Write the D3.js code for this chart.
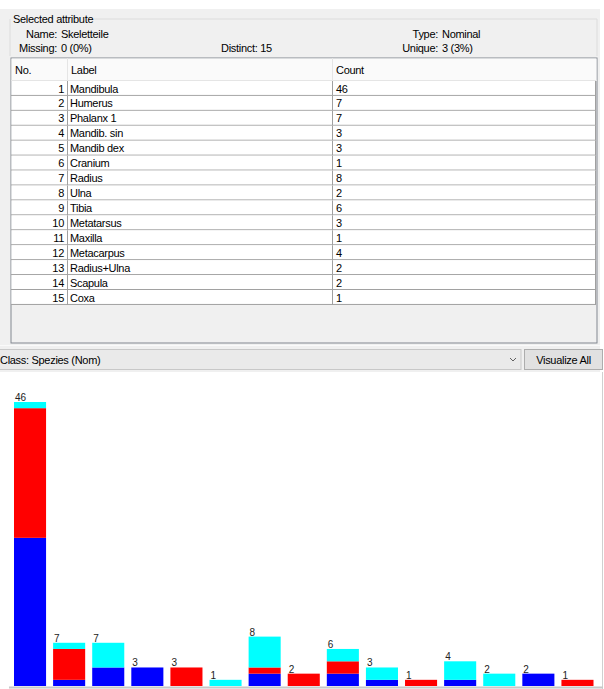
<!DOCTYPE html>
<html>
<head>
<meta charset="utf-8">
<script src="https://cdn.jsdelivr.net/npm/d3@7"></script>
<style>
  body { margin: 0; background: #fff; }
  svg { display: block; font-family: "Liberation Sans", Arial, sans-serif; }
  .ui { letter-spacing: -0.3px; }
</style>
</head>
<body>
<div id="chart"></div>
<script>
const WIDTH = 604;
const HEIGHT = 689;

// attribute summary
const attrName = "Skeletteile";
const attrType = "Nominal";
const missing = "0 (0%)";
const distinct = "15";
const unique = "3 (3%)";
const className = "Class: Spezies (Nom)";

// labels and counts of the nominal attribute
const labels = ["Mandibula", "Humerus", "Phalanx 1", "Mandib. sin", "Mandib dex", "Cranium",
  "Radius", "Ulna", "Tibia", "Metatarsus", "Maxilla", "Metacarpus", "Radius+Ulna", "Scapula", "Coxa"];
const counts = [46, 7, 7, 3, 3, 1, 8, 2, 6, 3, 1, 4, 2, 2, 1];

// class split per label (bottom to top: blue, red, cyan)
const classBlue = [24, 1, 3, 3, 0, 0, 2, 0, 2, 1, 0, 1, 0, 2, 0];
const classRed  = [21, 5, 0, 0, 3, 0, 1, 2, 2, 0, 1, 0, 0, 0, 1];
const classCyan = [1, 1, 4, 0, 0, 1, 5, 0, 2, 2, 0, 3, 2, 0, 0];
const classKeys = ["blue", "red", "cyan"];
const classColors = ["#0000ff", "#ff0000", "#00ffff"];

const svg = d3.select("#chart").append("svg")
  .attr("width", WIDTH)
  .attr("height", HEIGHT);

// ---------- top panel ----------
svg.append("rect").attr("x", 0).attr("y", 9).attr("width", 600).attr("height", 363).attr("fill", "#f0f0f0");

// titled border
svg.append("path")
  .attr("d", "M10,19 L10,56 M94,19 L597,19 L597,56")
  .attr("stroke", "#dcdcdc").attr("fill", "none");
svg.append("text").attr("class", "ui").attr("x", 13).attr("y", 23).attr("font-size", 11).attr("fill", "#000")
  .text("Selected attribute");

const info = svg.append("g").attr("class", "ui").attr("font-size", 11).attr("fill", "#000");
info.append("text").attr("x", 57).attr("y", 38).attr("text-anchor", "end").text("Name:");
info.append("text").attr("x", 61).attr("y", 38).text(attrName);
info.append("text").attr("x", 57).attr("y", 52).attr("text-anchor", "end").text("Missing:");
info.append("text").attr("x", 61).attr("y", 52).text(missing);
info.append("text").attr("x", 221).attr("y", 52).text("Distinct: " + distinct);
info.append("text").attr("x", 438).attr("y", 38).attr("text-anchor", "end").text("Type:");
info.append("text").attr("x", 442).attr("y", 38).text(attrType);
info.append("text").attr("x", 438).attr("y", 52).attr("text-anchor", "end").text("Unique:");
info.append("text").attr("x", 442).attr("y", 52).text(unique);

// table
const tX0 = 11, tX1 = 597, tY0 = 58, headH = 23, rowH = 14.93;
const colNo = 67, colCount = 332;
svg.append("rect").attr("x", tX0).attr("y", tY0).attr("width", tX1 - tX0).attr("height", 285)
  .attr("fill", "#f0f0f0").attr("stroke", "#828790");
svg.append("rect").attr("x", tX0 + 0.5).attr("y", tY0 + 0.5).attr("width", tX1 - tX0 - 1).attr("height", headH - 1)
  .attr("fill", "#fafafa");
svg.append("line").attr("x1", tX0).attr("x2", tX1).attr("y1", tY0 + headH - 0.5).attr("y2", tY0 + headH - 0.5)
  .attr("stroke", "#e5e5e5");
[colNo, colCount].forEach(c => {
  svg.append("line").attr("x1", c + 0.5).attr("x2", c + 0.5).attr("y1", tY0).attr("y2", tY0 + headH)
    .attr("stroke", "#e5e5e5");
});
const head = svg.append("g").attr("class", "ui").attr("font-size", 11).attr("fill", "#000");
head.append("text").attr("x", 15).attr("y", tY0 + 16).text("No.");
head.append("text").attr("x", 71).attr("y", tY0 + 16).text("Label");
head.append("text").attr("x", 336).attr("y", tY0 + 16).text("Count");

const rowY = d3.scaleLinear().domain([0, labels.length]).range([tY0 + headH, tY0 + headH + rowH * labels.length]);
const rows = svg.append("g").attr("class", "ui").selectAll("g").data(labels).join("g")
  .attr("transform", (d, i) => "translate(0," + rowY(i) + ")");
rows.append("rect").attr("x", tX0 + 0.5).attr("width", tX1 - tX0 - 2).attr("height", rowH).attr("fill", "#fff");
rows.append("line").attr("x1", tX0).attr("x2", tX1 - 1).attr("y1", rowH - 0.5).attr("y2", rowH - 0.5)
  .attr("stroke", "#a0a0a0");
rows.append("line").attr("x1", colNo + 0.5).attr("x2", colNo + 0.5).attr("y1", 0).attr("y2", rowH).attr("stroke", "#a0a0a0");
rows.append("line").attr("x1", colCount + 0.5).attr("x2", colCount + 0.5).attr("y1", 0).attr("y2", rowH).attr("stroke", "#a0a0a0");
rows.append("line").attr("x1", tX1 - 1.5).attr("x2", tX1 - 1.5).attr("y1", 0).attr("y2", rowH).attr("stroke", "#a0a0a0");
rows.append("text").attr("x", 64).attr("y", 11.5).attr("text-anchor", "end").attr("font-size", 11).text((d, i) => i + 1);
rows.append("text").attr("x", 70).attr("y", 11.5).attr("font-size", 11).text(d => d);
rows.append("text").attr("x", 336).attr("y", 11.5).attr("font-size", 11).text((d, i) => counts[i]);

// class combobox + button
svg.append("line").attr("x1", 0).attr("x2", 600).attr("y1", 345.5).attr("y2", 345.5).attr("stroke", "#fafafa");
svg.append("rect").attr("x", -1).attr("y", 349.5).attr("width", 522).attr("height", 20)
  .attr("fill", "#eaeaea").attr("stroke", "#c8c8c8");
svg.append("text").attr("class", "ui").attr("x", 0).attr("y", 364).attr("font-size", 11).text(className);
svg.append("path").attr("d", "M510,358 L513,361 L516,358").attr("stroke", "#606060").attr("fill", "none");
svg.append("rect").attr("x", 524.5).attr("y", 349.5).attr("width", 78).attr("height", 20)
  .attr("fill", "#e1e1e1").attr("stroke", "#adadad");
svg.append("text").attr("class", "ui").attr("x", 563.5).attr("y", 364).attr("text-anchor", "middle")
  .attr("font-size", 11).text("Visualize All");

// ---------- bar plot ----------
svg.append("line").attr("x1", 602.5).attr("x2", 602.5).attr("y1", 372).attr("y2", 689).attr("stroke", "#d0d0d0");
svg.append("line").attr("x1", 9).attr("x2", 603).attr("y1", 687.5).attr("y2", 687.5).attr("stroke", "#c8c8c8").attr("stroke-width", 2);

const x = d3.scaleBand().domain(labels).range([14, 593.5]).paddingInner(0.18).paddingOuter(0);
const y = d3.scaleLinear().domain([0, d3.max(counts)]).range([686, 402]);

const table = labels.map((l, i) => ({label: l, blue: classBlue[i], red: classRed[i], cyan: classCyan[i]}));
const stacked = d3.stack().keys(classKeys)(table);

svg.append("g").selectAll("g").data(stacked).join("g")
  .attr("fill", (d, i) => classColors[i])
  .selectAll("rect").data(d => d).join("rect")
    .attr("x", d => x(d.data.label))
    .attr("y", d => y(d[1]))
    .attr("width", x.bandwidth())
    .attr("height", d => y(d[0]) - y(d[1]));

svg.append("g").attr("font-size", 10).attr("fill", "#222")
  .selectAll("text").data(labels).join("text")
    .attr("x", d => x(d) + 1)
    .attr("y", (d, i) => y(counts[i]) - 1)
    .text((d, i) => counts[i]);
</script>
</body>
</html>
